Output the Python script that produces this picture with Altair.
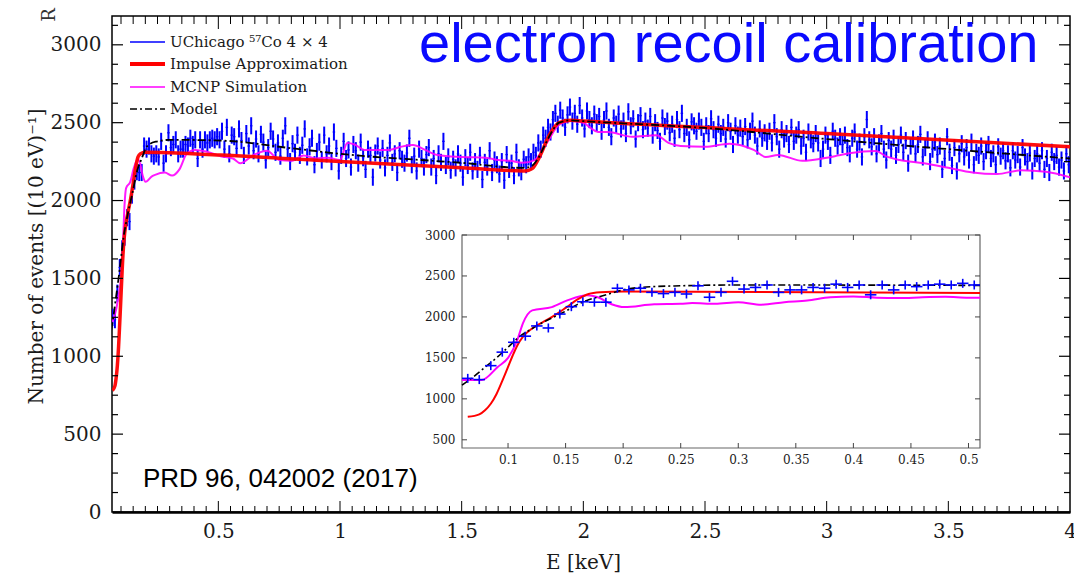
import altair as alt
import numpy as np
import pandas as pd

# ---------------------------------------------------------------- data
# Measured spectrum, 10 eV bins, first bin centred on 0.065 keV
BIN_START = 0.065
BIN_WIDTH = 0.01
COUNTS = [
    1250, 1235, 1405, 1570, 1690, 1765, 1890, 1865, 2035, 2125,
    2185, 2180, 2180, 2350, 2330, 2350, 2300, 2285, 2300, 2280,
    2380, 2240, 2300, 2435, 2340, 2360, 2390, 2300, 2330, 2330,
    2360, 2350, 2400, 2360, 2390, 2270, 2390, 2330, 2390, 2370,
    2390, 2400, 2390, 2410, 2390, 2445, 2330, 2470, 2300, 2420,
    2410, 2335, 2460, 2385, 2290, 2430, 2350, 2480, 2320, 2395,
    2300, 2425, 2375, 2260, 2340, 2445, 2395, 2310, 2370, 2285,
    2400, 2480, 2330, 2250, 2365, 2310, 2420, 2290, 2355, 2460,
    2280, 2345, 2400, 2230, 2315, 2375, 2260, 2420, 2300, 2350,
    2250, 2440, 2335, 2190, 2290, 2380, 2270, 2325, 2215, 2360,
    2320, 2240, 2375, 2275, 2200, 2330, 2290, 2150, 2305, 2350,
    2260, 2335, 2210, 2290, 2370, 2245, 2300, 2180, 2320, 2265,
    2240, 2305, 2400, 2230, 2285, 2190, 2330, 2270, 2215, 2295,
    2340, 2215, 2270, 2160, 2300, 2245, 2380, 2225, 2280, 2195,
    2265, 2210, 2300, 2240, 2150, 2275, 2225, 2310, 2190, 2250,
    2200, 2290, 2135, 2245, 2215, 2320, 2180, 2260, 2230, 2170,
    2250, 2130, 2295, 2200, 2240, 2160, 2310, 2210, 2185, 2265,
    2230, 2280, 2250, 2310, 2290, 2370, 2330, 2420, 2400, 2470,
    2440, 2520, 2560, 2490, 2580, 2530, 2470, 2550, 2600, 2510,
    2560, 2490, 2610, 2530, 2460, 2575, 2520, 2480, 2555, 2500,
    2540, 2445, 2520, 2575, 2470, 2410, 2530, 2490, 2555, 2460,
    2510, 2430, 2570, 2480, 2525, 2395, 2500, 2545, 2455, 2510,
    2465, 2540, 2420, 2500, 2450, 2380, 2530, 2475, 2510, 2435,
    2490, 2400, 2520, 2455, 2560, 2430, 2470, 2390, 2505, 2480,
    2445, 2510, 2470, 2380, 2480, 2430, 2525, 2455, 2400, 2490,
    2430, 2470, 2395, 2500, 2445, 2360, 2480, 2420, 2465, 2410,
    2475, 2390, 2445, 2510, 2420, 2350, 2460, 2400, 2435, 2380,
    2445, 2370, 2500, 2410, 2330, 2455, 2395, 2430, 2360, 2470,
    2380, 2420, 2455, 2350, 2400, 2310, 2440, 2390, 2365, 2430,
    2370, 2270, 2330, 2420, 2380, 2290, 2445, 2400, 2350, 2410,
    2360, 2420, 2340, 2300, 2400, 2440, 2330, 2375, 2280, 2410,
    2520, 2390, 2345, 2410, 2300, 2370, 2430, 2330, 2260, 2385,
    2330, 2400, 2290, 2360, 2420, 2310, 2385, 2240, 2350, 2395,
    2300, 2360, 2425, 2280, 2340, 2390, 2250, 2330, 2375, 2295,
    2350, 2200, 2270, 2410, 2310, 2225, 2340, 2190, 2300, 2365,
    2280, 2340, 2260, 2375, 2230, 2310, 2290, 2350, 2250, 2320,
    2360, 2270, 2300, 2230, 2345, 2285, 2320, 2255, 2300, 2210,
    2320, 2260, 2295, 2215, 2340, 2280, 2250, 2305, 2190, 2270,
    2300, 2240, 2320, 2200, 2270, 2180, 2310, 2250, 2290, 2215,
    2260, 2190, 2300, 2230,
]
COUNT_ERR = 55  # half-length of the vertical error bars

# Impulse approximation
IA_E = [0.065, 0.075, 0.08, 0.085, 0.09, 0.095, 0.1, 0.105, 0.11, 0.115,
        0.12, 0.13, 0.14, 0.15, 0.16, 0.17, 0.18, 0.2, 0.51, 1.0, 1.5,
        1.76, 1.79, 1.82, 1.86, 1.9, 1.95, 2.0, 3.0, 4.0]
IA_V = [780, 810, 860, 940, 1060, 1220, 1390, 1560, 1700, 1790,
        1850, 1935, 2015, 2110, 2210, 2280, 2300, 2310, 2292, 2250, 2210,
        2190, 2205, 2280, 2420, 2500, 2515, 2510, 2430, 2345]

# Model
MODEL_E = [0.06, 0.07, 0.08, 0.09, 0.1, 0.11, 0.12, 0.13, 0.14, 0.15, 0.16,
           0.17, 0.18, 0.19, 0.2, 0.22, 0.25, 0.3, 0.51, 0.8, 1.0, 1.5,
           1.75, 1.78, 1.81, 1.84, 1.87, 1.9, 1.95, 2.0, 2.5, 3.0, 3.5, 4.0]
MODEL_V = [1168, 1270, 1385, 1500, 1630, 1760, 1850, 1930, 2000, 2070, 2150,
           2210, 2250, 2290, 2330, 2365, 2380, 2390, 2385, 2336, 2300, 2242,
           2210, 2215, 2260, 2350, 2440, 2500, 2515, 2510, 2466, 2395, 2330, 2270]

# MCNP simulation, full range
MCNP_E = [0.065, 0.08, 0.09, 0.1, 0.108, 0.113, 0.121, 0.138, 0.152, 0.169,
          0.178, 0.19, 0.201, 0.227, 0.24, 0.28, 0.31, 0.34, 0.37, 0.405,
          0.45, 0.51, 0.56, 0.59, 0.645, 0.7, 0.75, 0.8, 0.85, 0.9, 0.95,
          1.0, 1.03, 1.06, 1.1, 1.2, 1.25, 1.3, 1.35, 1.4, 1.5, 1.6, 1.65,
          1.7, 1.75, 1.8, 1.85, 1.9, 1.95, 2.0, 2.03, 2.06, 2.1, 2.2, 2.3,
          2.35, 2.4, 2.5, 2.6, 2.7, 2.75, 2.8, 2.9, 3.0, 3.05, 3.1, 3.2,
          3.25, 3.3, 3.4, 3.5, 3.6, 3.7, 3.8, 3.9, 4.0]
MCNP_V = [1220, 1300, 1390, 1500, 1717, 1925, 2080, 2120, 2205, 2265,
          2240, 2155, 2120, 2155, 2165, 2180, 2160, 2200, 2300, 2325,
          2315, 2285, 2270, 2240, 2293, 2320, 2260, 2255, 2290, 2270, 2275,
          2260, 2370, 2360, 2325, 2325, 2345, 2357, 2325, 2293, 2280, 2275, 2260,
          2255, 2243, 2260, 2370, 2485, 2510, 2500, 2466, 2440, 2440, 2410, 2420,
          2370, 2350, 2345, 2365, 2325, 2280, 2293, 2255, 2275, 2290, 2305, 2318,
          2280, 2260, 2240, 2210, 2180, 2170, 2195, 2185, 2150]

# MCNP simulation as drawn in the low-energy panel
MCNP_LOW_E = [0.06, 0.077, 0.091, 0.1, 0.108, 0.113, 0.121, 0.138, 0.152,
              0.169, 0.178, 0.19, 0.201, 0.227, 0.25, 0.26, 0.28, 0.3, 0.32,
              0.34, 0.36, 0.38, 0.4, 0.42, 0.44, 0.46, 0.48, 0.5, 0.51]
MCNP_LOW_V = [1230, 1230, 1390, 1500, 1717, 1925, 2080, 2120, 2205,
              2265, 2240, 2155, 2120, 2155, 2160, 2170, 2160, 2180, 2150,
              2180, 2200, 2240, 2250, 2235, 2230, 2240, 2245, 2235, 2235]

LEGEND_LABELS = ["UChicago \u2075\u2077Co 4 \u00d7 4", "Impulse Approximation",
                 "MCNP Simulation", "Model"]

# ---------------------------------------------------------------- layout
W, H = 958, 496
X_DOMAIN = [0.063, 4.0]
Y_DOMAIN = [0, 3185]
INSET_X_DOMAIN = [0.06, 0.51]
INSET_Y_DOMAIN = [400, 3000]
INSET_LEFT, INSET_RIGHT, INSET_TOP, INSET_BOTTOM = 350, 868, 219, 432

BLUE = "#0000ff"
RED = "#ff0000"
MAGENTA = "#ff00ff"
SERIF = "DejaVu Serif"

n = len(COUNTS)
spec = pd.DataFrame({
    "E": [BIN_START + BIN_WIDTH * i for i in range(n)],
    "V": COUNTS,
})
spec["lo"] = spec["V"] - COUNT_ERR
spec["hi"] = spec["V"] + COUNT_ERR
spec["el"] = spec["E"] - BIN_WIDTH / 2
spec["er"] = spec["E"] + BIN_WIDTH / 2

ia = pd.DataFrame({"E": IA_E, "V": IA_V})
model = pd.DataFrame({"E": MODEL_E, "V": MODEL_V})
mcnp = pd.DataFrame({"E": MCNP_E, "V": MCNP_V})
mcnp_low = pd.DataFrame({"E": MCNP_LOW_E, "V": MCNP_LOW_V})

# ---------------------------------------------------------------- main panel
mx = alt.Scale(domain=X_DOMAIN, nice=False, zero=False)
my = alt.Scale(domain=Y_DOMAIN, nice=False, zero=False)
x_axis = alt.Axis(values=[0.5, 1, 1.5, 2, 2.5, 3, 3.5, 4], format="~g",
                  title="E [keV]", titleFontSize=20, titleFontWeight="normal",
                  titleX=471, titleY=50, titleBaseline="middle",
                  labelFontSize=20, labelPadding=9, ticks=False,
                  domain=True, domainColor="black", domainWidth=2.5,
                  labelFlush=False, labelOverlap=False)
y_axis = alt.Axis(values=[0, 500, 1000, 1500, 2000, 2500, 3000], format="d",
                  title="Number of events [(10 eV)\u207b\u00b9]",
                  titleFontSize=20, titleFontWeight="normal",
                  titleX=-76, titleY=240, titleBaseline="middle", titleAlign="center",
                  labelFontSize=20, labelPadding=11, ticks=False, domain=False,
                  labelFlush=False, labelOverlap=False)


def mxe(field, **kw):
    return alt.X(field, type="quantitative", scale=mx, axis=x_axis, **kw)


def mye(field, **kw):
    return alt.Y(field, type="quantitative", scale=my, axis=y_axis, **kw)


err_v = alt.Chart(spec).mark_rule(color=BLUE, strokeWidth=2, clip=True).encode(
    x=mxe("E"), y=mye("lo"), y2="hi")
err_h = alt.Chart(spec).mark_rule(color=BLUE, strokeWidth=1.3, clip=True).encode(
    x=mxe("el"), x2="er", y=mye("V"))
mcnp_line = alt.Chart(mcnp).mark_line(color=MAGENTA, strokeWidth=2, opacity=0.9,
                                      interpolate="monotone", clip=True).encode(
    x=mxe("E"), y=mye("V"))
ia_line = alt.Chart(ia).mark_line(color=RED, strokeWidth=3.5, opacity=0.95,
                                  interpolate="monotone", clip=True).encode(
    x=mxe("E"), y=mye("V"))
model_line = alt.Chart(model).mark_line(color="black", strokeWidth=1.8,
                                        strokeDash=[8, 3, 2, 3],
                                        interpolate="monotone", clip=True).encode(
    x=mxe("E"), y=mye("V"))

# inward tick marks on all four sides of the main frame
x_major = [0.5, 1.0, 1.5, 2.0, 2.5, 3.0, 3.5]
x_minor = [round(v, 2) for v in np.arange(0.1, 4.0, 0.05) if round(v, 2) not in x_major]
y_major = [500, 1000, 1500, 2000, 2500, 3000]
y_minor = [v for v in range(125, 3185, 125) if v not in y_major]


def xticks(vals, length):
    d = pd.DataFrame({"E": vals})
    bottom = alt.Chart(d).mark_rule(color="black", strokeWidth=1).encode(
        x=mxe("E"), y=alt.value(H), y2=alt.value(H - length))
    top = alt.Chart(d).mark_rule(color="black", strokeWidth=1).encode(
        x=mxe("E"), y=alt.value(0), y2=alt.value(length + 2))
    return [bottom, top]


def yticks(vals, length):
    d = pd.DataFrame({"V": vals})
    left = alt.Chart(d).mark_rule(color="black", strokeWidth=1.2).encode(
        y=mye("V"), x=alt.value(0), x2=alt.value(length))
    right = alt.Chart(d).mark_rule(color="black", strokeWidth=1.2).encode(
        y=mye("V"), x=alt.value(W), x2=alt.value(W - length))
    return [left, right]


tick_layers = (xticks(x_major, 11) + xticks(x_minor, 6)
               + yticks(y_major, 11) + yticks(y_minor, 6))

# legend block in the upper-left corner
legend_rows = [26, 48, 71, 93]
legend_styles = [
    dict(color=BLUE, strokeWidth=1.5),
    dict(color=RED, strokeWidth=4),
    dict(color=MAGENTA, strokeWidth=1.5),
    dict(color="black", strokeWidth=1.5, strokeDash=[7, 3, 2, 3]),
]
legend_layers = []
for label, row, style in zip(LEGEND_LABELS, legend_rows, legend_styles):
    d = pd.DataFrame({"label": [label]})
    legend_layers.append(alt.Chart(d).mark_rule(**style).encode(
        x=alt.value(18), x2=alt.value(53), y=alt.value(row)))
    legend_layers.append(alt.Chart(d).mark_text(
        align="left", baseline="middle", font=SERIF, fontSize=15,
        color="#1a1a1a").encode(text="label:N", x=alt.value(58), y=alt.value(row)))

banner = alt.Chart(pd.DataFrame({"t": ["electron recoil calibration"]})).mark_text(
    align="left", baseline="alphabetic", font="Liberation Sans", fontSize=56,
    color="#0a0aff").encode(text="t:N", x=alt.value(307), y=alt.value(46))
reference = alt.Chart(pd.DataFrame({"t": ["PRD 96, 042002 (2017)"]})).mark_text(
    align="left", baseline="alphabetic", font="Liberation Sans", fontSize=26,
    color="black").encode(text="t:N", x=alt.value(31), y=alt.value(471))
corner = alt.Chart(pd.DataFrame({"t": ["R"]})).mark_text(
    align="center", baseline="middle", font=SERIF, fontSize=18, angle=270,
    color="#333333").encode(text="t:N", x=alt.value(-62), y=alt.value(-1))

main = alt.layer(err_v, err_h, mcnp_line, ia_line, model_line,
                 *tick_layers, *legend_layers, banner, reference, corner)

# ---------------------------------------------------------------- inset panel
ix = alt.Scale(domain=INSET_X_DOMAIN, range=[INSET_LEFT, INSET_RIGHT],
               nice=False, zero=False)
iy = alt.Scale(domain=INSET_Y_DOMAIN, range=[INSET_BOTTOM, INSET_TOP],
               nice=False, zero=False)
ix_axis = alt.Axis(values=[0.1, 0.15, 0.2, 0.25, 0.3, 0.35, 0.4, 0.45, 0.5],
                   format="~g", orient="bottom", offset=-(H - INSET_BOTTOM),
                   title=None, labelFontSize=12, labelPadding=6, ticks=False,
                   domain=False, labelFlush=False, labelOverlap=False)
iy_axis = alt.Axis(values=[500, 1000, 1500, 2000, 2500, 3000], format="d",
                   orient="left", offset=-INSET_LEFT, title=None, labelFontSize=12,
                   labelPadding=7, ticks=False, domain=False,
                   labelFlush=False, labelOverlap=False)


def ixe(field):
    return alt.X(field, type="quantitative", scale=ix, axis=ix_axis)


def iye(field):
    return alt.Y(field, type="quantitative", scale=iy, axis=iy_axis)


low = spec[spec["E"] <= INSET_X_DOMAIN[1]]
frame = alt.Chart(pd.DataFrame({"k": [0]})).mark_rect(
    fill="white", stroke="#666666", strokeWidth=1.2).encode(
    x=alt.value(INSET_LEFT), x2=alt.value(INSET_RIGHT),
    y=alt.value(INSET_TOP), y2=alt.value(INSET_BOTTOM))
in_err_v = alt.Chart(low).mark_rule(color=BLUE, strokeWidth=1.6).encode(
    x=ixe("E"), y=iye("lo"), y2="hi")
in_err_h = alt.Chart(low).mark_rule(color=BLUE, strokeWidth=1.6).encode(
    x=ixe("el"), x2="er", y=iye("V"))
in_mcnp = alt.Chart(mcnp_low).mark_line(color=MAGENTA, strokeWidth=2,
                                        interpolate="monotone").encode(
    x=ixe("E"), y=iye("V"))
in_ia = alt.Chart(ia[ia["E"] <= INSET_X_DOMAIN[1]]).mark_line(
    color=RED, strokeWidth=2, interpolate="monotone").encode(
    x=ixe("E"), y=iye("V"))
in_model = alt.Chart(model[model["E"] <= INSET_X_DOMAIN[1]]).mark_line(
    color="black", strokeWidth=1.6, strokeDash=[7, 3, 2, 3],
    interpolate="monotone").encode(x=ixe("E"), y=iye("V"))

in_xt = pd.DataFrame({"E": [0.1, 0.15, 0.2, 0.25, 0.3, 0.35, 0.4, 0.45, 0.5]})
in_yt = pd.DataFrame({"V": [500, 1000, 1500, 2000, 2500, 3000]})
in_ticks = [
    alt.Chart(in_xt).mark_rule(color="#444444").encode(
        x=ixe("E"), y=alt.value(INSET_BOTTOM), y2=alt.value(INSET_BOTTOM - 5)),
    alt.Chart(in_xt).mark_rule(color="#444444").encode(
        x=ixe("E"), y=alt.value(INSET_TOP), y2=alt.value(INSET_TOP + 5)),
    alt.Chart(in_yt).mark_rule(color="#444444").encode(
        y=iye("V"), x=alt.value(INSET_LEFT), x2=alt.value(INSET_LEFT + 5)),
    alt.Chart(in_yt).mark_rule(color="#444444").encode(
        y=iye("V"), x=alt.value(INSET_RIGHT), x2=alt.value(INSET_RIGHT - 5)),
]

inset = alt.layer(frame, in_mcnp, in_ia, in_model, in_err_v, in_err_h, *in_ticks)

chart = alt.layer(main, inset).resolve_scale(
    x="independent", y="independent"
).properties(
    width=W, height=H,
    autosize=alt.AutoSizeParams(type="none"),
    padding={"left": 112, "top": 16, "right": 4, "bottom": 67},
    background="white",
).configure_view(
    stroke="black", strokeWidth=1.5
).configure_axis(
    labelFont=SERIF, titleFont=SERIF, labelColor="#1a1a1a", titleColor="#1a1a1a",
    grid=False,
)

chart.save("out.html", embed_options={"renderer": "svg", "actions": False})
